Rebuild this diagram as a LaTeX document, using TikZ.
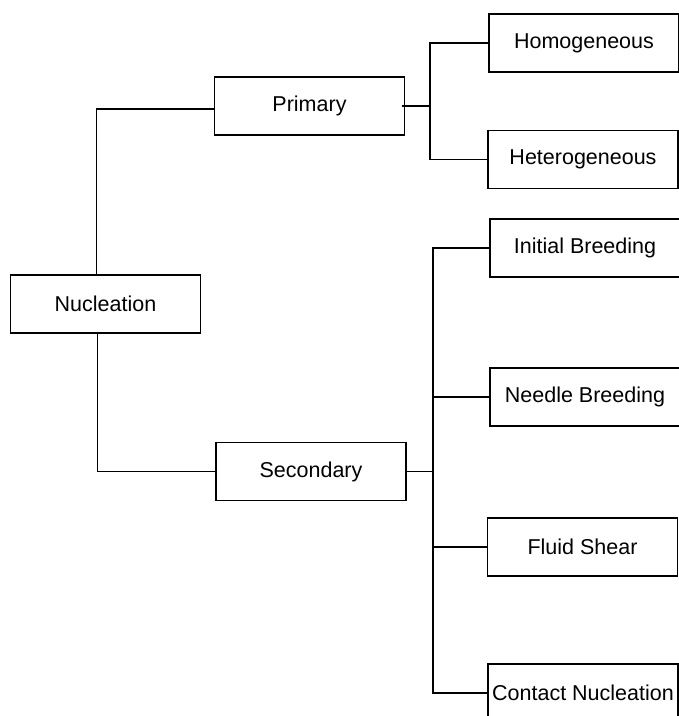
\documentclass[tikz,border=0pt]{standalone}
\usepackage{fontspec}
\setmainfont{Liberation Sans}
\usepackage{tikz}
\usetikzlibrary{positioning}

\begin{document}
\begin{tikzpicture}[
    x=1pt, y=-1pt,
    block/.style={rectangle, draw, line width=1.2pt, minimum width=190pt, minimum height=58pt, inner sep=0pt, align=center, font=\fontsize{21.5pt}{25pt}\selectfont},
    link/.style={line width=1.2pt},
]
    \useasboundingbox (0,0) rectangle (679,716);
    \clip (0,0) rectangle (679,716);

    \node[block] (nuc) at (105.5,304) {Nucleation};
    \node[block] (prim) at (309.5,106) {Primary};
    \node[block] (sec) at (311,471.5) {Secondary};
    \node[block] (homo) at (584,43) {Homogeneous};
    \node[block] (hetero) at (583,159.5) {Heterogeneous};
    \node[block] (init) at (585,248) {Initial Breeding};
    \node[block] (needle) at (585,397) {Needle Breeding};
    \node[block] (fluid) at (582.5,547) {Fluid Shear};
    \node[block] (contact) at (583,693) {Contact Nucleation};

    \coordinate (pj) at (430,106);
    \coordinate (sj) at (433,471.5);

    \draw[link] ([xshift=-9pt]nuc.north) |- ([yshift=-3pt]prim.west);
    \draw[link] ([xshift=-8pt]nuc.south) |- (sec.west);
    \draw[link] ([xshift=-3pt]prim.east) -- (pj);
    \draw[link] (homo.west) -| (pj) |- (hetero.west);
    \draw[link] (sec.east) -- (sj);
    \draw[link] (init.west) -| (sj) |- (contact.west);
    \foreach \n in {needle,fluid}
        \draw[link] (\n.west) -- (\n.west -| sj);
\end{tikzpicture}
\end{document}
